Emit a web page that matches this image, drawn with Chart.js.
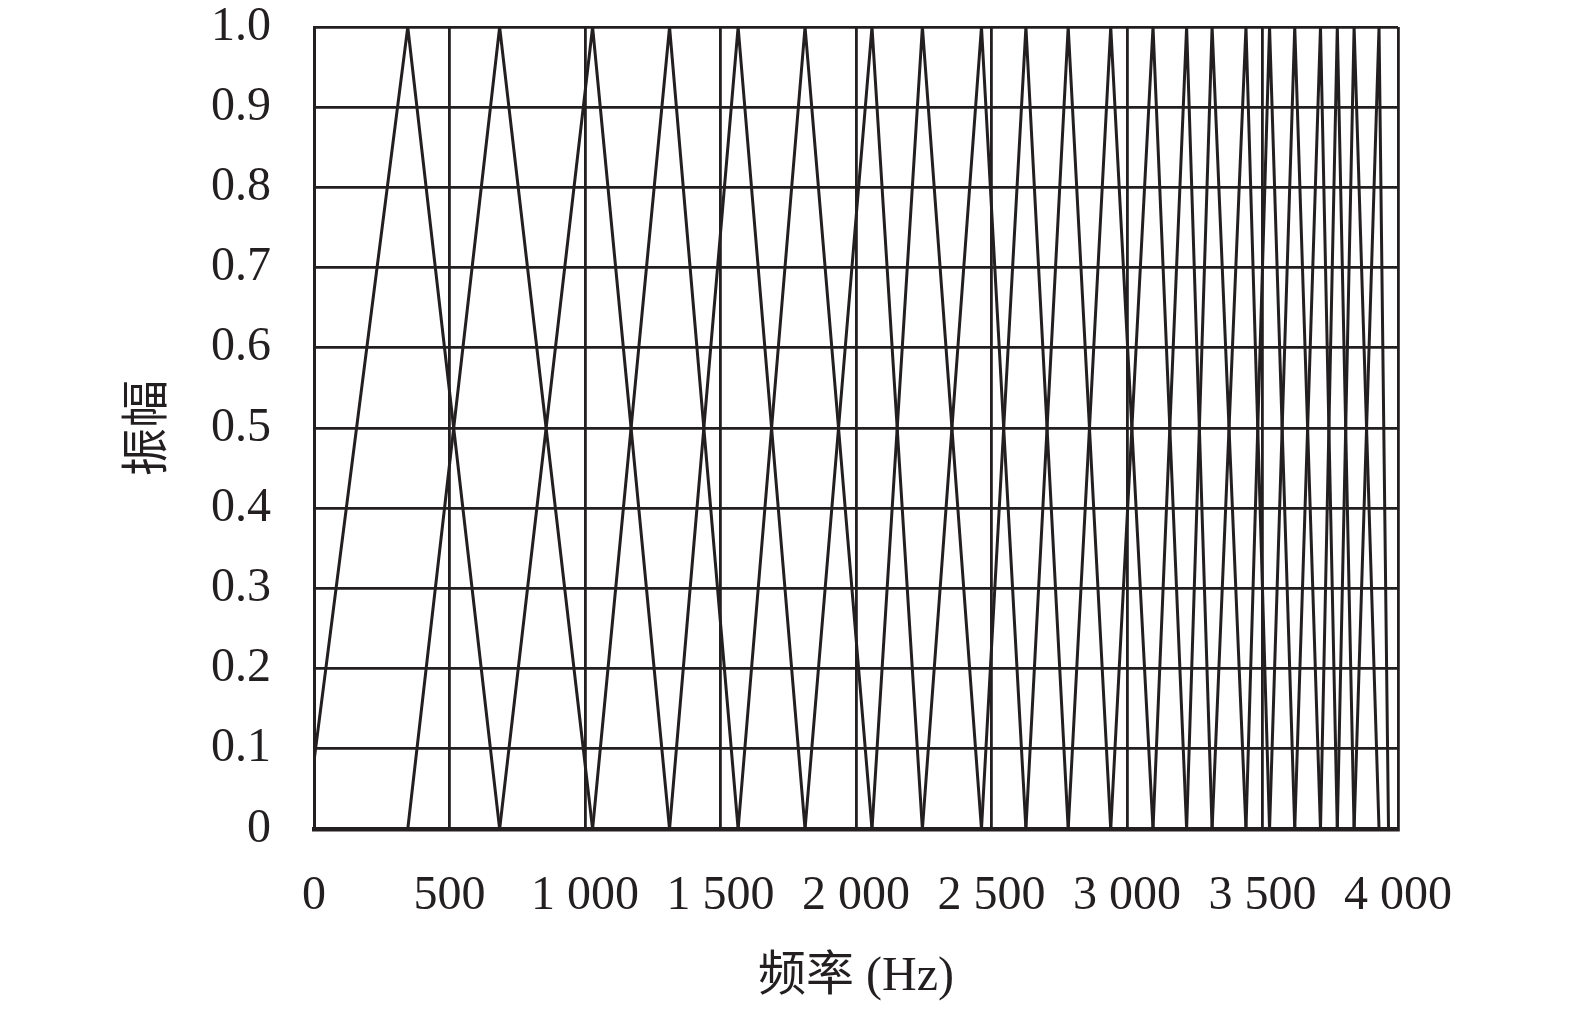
<!DOCTYPE html>
<html>
<head>
<meta charset="utf-8">
<style>
html,body{margin:0;padding:0;background:#ffffff;}
#wrap{width:1575px;height:1010px;position:relative;}
</style>
<script src="https://cdn.jsdelivr.net/npm/chart.js@4.4.0/dist/chart.umd.min.js"></script>
</head>
<body>
<div id="wrap"><canvas id="c"></canvas></div>
<script>
// Filter centre / edge frequencies (Hz)
const centerFreqs = [-32, 346, 685, 1028, 1312, 1565, 1812, 2059, 2245, 2463, 2627, 2783, 2940, 3096, 3220, 3314, 3439, 3526, 3619, 3714, 3776, 3838, 3930, 3965];
const peakValue = 1.0;
const baseValue = 0;
const xTickValues = [0, 500, 1000, 1500, 2000, 2500, 3000, 3500, 4000];
const xTickLabels = ['0', '500', '1 000', '1 500', '2 000', '2 500', '3 000', '3 500', '4 000'];
const yTickLabels = ['0', '0.1', '0.2', '0.3', '0.4', '0.5', '0.6', '0.7', '0.8', '0.9', '1.0'];
const xTitle = '频率 (Hz)';
const yTitle = '振幅';

const ink = '#231f20';
const fam = '"Liberation Serif", "Times New Roman", "Noto Sans CJK SC", serif';

const datasets = [];
for (let i = 1; i < centerFreqs.length - 1; i++) {
  datasets.push({
    data: [
      {x: centerFreqs[i - 1], y: baseValue},
      {x: centerFreqs[i], y: peakValue},
      {x: centerFreqs[i + 1], y: baseValue}
    ],
    showLine: true,
    borderColor: ink,
    borderWidth: 3,
    pointRadius: 0,
    pointHoverRadius: 0,
    fill: false,
    tension: 0
  });
}

new Chart(document.getElementById('c'), {
  type: 'scatter',
  data: {datasets},
  options: {
    responsive: true,
    maintainAspectRatio: false,
    animation: false,
    events: [],
    layout: {padding: {left: 0, top: 27, right: 177, bottom: 0}},
    plugins: {legend: {display: false}, tooltip: {enabled: false}},
    scales: {
      x: {
        type: 'linear',
        min: 0,
        max: 4000,
        afterBuildTicks: (s) => { s.ticks = xTickValues.map(v => ({value: v})); },
        afterFit: (s) => { s.height = 181; },
        ticks: {
          autoSkip: false,
          maxRotation: 0,
          minRotation: 0,
          padding: 39,
          color: ink,
          font: {family: fam, size: 48},
          callback: (v) => { const k = xTickValues.indexOf(v); return k >= 0 ? xTickLabels[k] : ''; }
        },
        grid: {color: ink, lineWidth: 2.8, drawTicks: false},
        border: {display: true, color: ink, width: 4.5},
        title: {
          display: true,
          text: xTitle,
          color: ink,
          font: {family: fam, size: 48},
          padding: {top: 0, bottom: 4}
        }
      },
      y: {
        type: 'linear',
        min: 0,
        max: 1,
        afterBuildTicks: (s) => { s.ticks = yTickLabels.map((t, i) => ({value: i / 10})); },
        afterFit: (s) => { s.width = 314; s.paddingTop = 0; s.paddingBottom = 0; },
        ticks: {
          autoSkip: false,
          padding: 43,
          color: ink,
          font: {family: fam, size: 48},
          callback: (v, i) => yTickLabels[i]
        },
        grid: {color: ink, lineWidth: 2.8, drawTicks: false},
        border: {display: true, color: ink, width: 3},
        title: {
          display: true,
          text: yTitle,
          color: ink,
          font: {family: fam, size: 48},
          padding: {top: 121, bottom: 0}
        }
      }
    }
  }
});
</script>
</body>
</html>
